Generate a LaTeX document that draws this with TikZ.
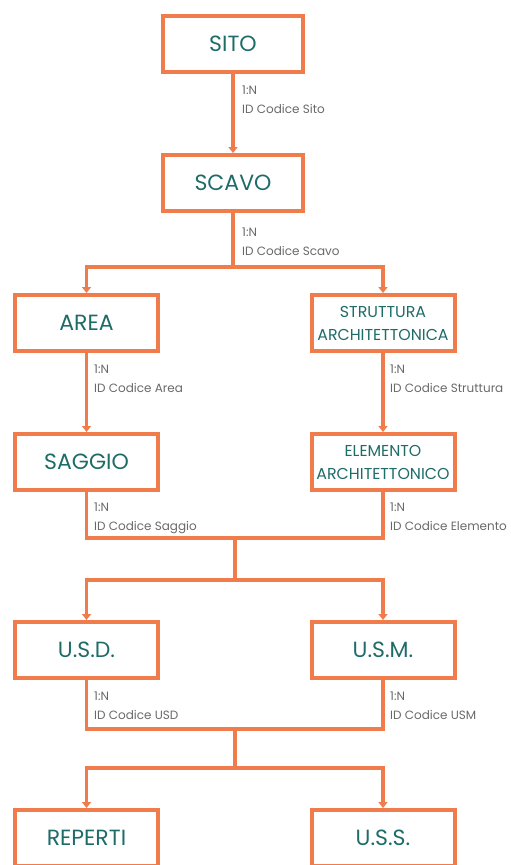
\documentclass[tikz,border=0pt]{standalone}
\usepackage{fontspec}
\setmainfont{Poppins}
\usetikzlibrary{arrows.meta}
\definecolor{org}{RGB}{240,124,76}
\definecolor{tealtxt}{RGB}{30,108,104}
\definecolor{lbl}{RGB}{105,105,105}
\begin{document}
\begin{tikzpicture}[x=1pt,y=-1pt,
 box/.style={draw=org,line width=4pt,minimum width=143pt,minimum height=56pt,inner sep=0pt,text=tealtxt,font=\fontsize{22}{24}\selectfont,align=center},
 topbox/.style={box,minimum width=140pt},
 two/.style={font=\fontsize{15.8}{23}\selectfont},
 conn/.style={draw=org,line width=3.5pt},
 arr/.style={conn,-{Triangle[length=6pt,width=9pt]}},
 lab/.style={text=lbl,font=\fontsize{12}{19}\selectfont,align=left,anchor=base west,inner sep=0pt}]
\path[use as bounding box] (0,0) rectangle (511,865);
\clip (0,0) rectangle (511,865);
\node[topbox] (sito) at (233,44) {SITO};
\node[topbox] (scavo) at (233,183) {SCAVO};
\node[box] (area) at (86.5,323) {AREA};
\node[box,two] (strutt) at (383,323) {STRUTTURA\\ARCHITETTONICA};
\node[box] (saggio) at (86.5,462) {SAGGIO};
\node[box,two] (elem) at (383,462) {ELEMENTO\\ARCHITETTONICO};
\node[box] (usd) at (86.5,650) {U.S.D.};
\node[box] (usm) at (383,650) {U.S.M.};
\node[box] (rep) at (86.5,838) {REPERTI};
\node[box] (uss) at (383,838) {U.S.S.};
\coordinate (j0) at (233,267);
\coordinate (j1) at (235,538);
\coordinate (j2) at (235,580);
\coordinate (j3) at (235,729);
\coordinate (j4) at (235,768);
% connectors
\draw[arr] (sito.south) -- (scavo.north);
\draw[conn] (scavo.south) -- (j0);
\draw[arr] (j0) -| (area.north);
\draw[arr] (j0) -| (strutt.north);
\draw[arr] (area.south) -- (saggio.north);
\draw[arr] (strutt.south) -- (elem.north);
\draw[conn] (saggio.south) |- (j1) -| (elem.south);
\draw[conn] (j1) -- (j2);
\draw[arr] (j2) -| (usd.north);
\draw[arr] (j2) -| (usm.north);
\draw[conn] (usd.south) |- (j3) -| (usm.south);
\draw[conn] (j3) -- (j4);
\draw[arr] (j4) -| (rep.north);
\draw[arr] (j4) -| (uss.north);
% labels
\node[lab] (l1) at (242,113) {1:N\\ID Codice Sito};
\node[lab] (l2) at (242,255) {1:N\\ID Codice Scavo};
\node[lab] (l3) at (94,392) {1:N\\ID Codice Area};
\node[lab] (l4) at (390,392) {1:N\\ID Codice Struttura};
\node[lab] (l5) at (94,530) {1:N\\ID Codice Saggio};
\node[lab] (l6) at (390,530) {1:N\\ID Codice Elemento};
\node[lab] (l7) at (94,719) {1:N\\ID Codice USD};
\node[lab] (l8) at (390,719) {1:N\\ID Codice USM};
\end{tikzpicture}
\end{document}
